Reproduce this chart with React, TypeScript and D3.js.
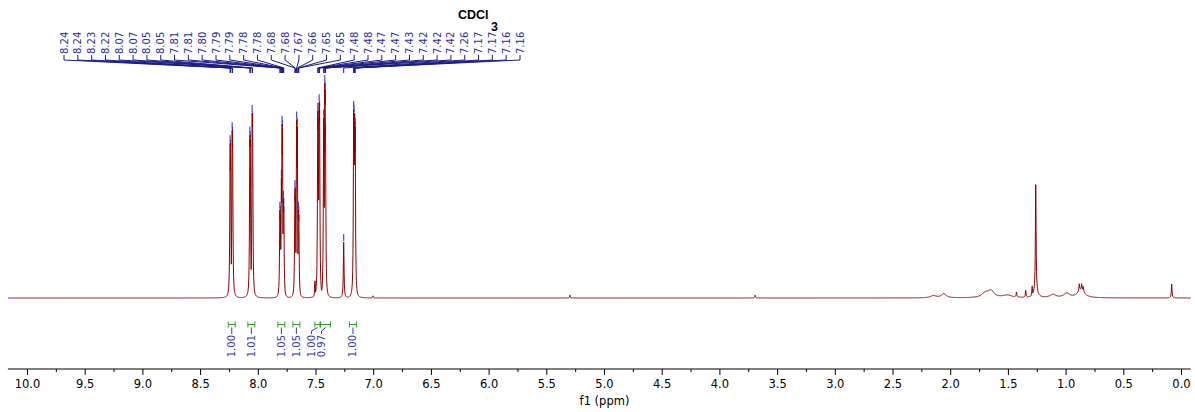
import React from 'react';
import * as d3 from 'd3';

const W = 1195;
const H = 412;

// Labelled (peak-picked) lines: chemical shift (ppm) and relative intensity (% of tallest)
const peakPpm = [
  8.2440, 8.2405, 8.2265, 8.2230, 8.0730, 8.0695, 8.0530, 8.0495,
  7.8130, 7.8090, 7.7998, 7.7942, 7.7905, 7.7830, 7.7790,
  7.6825, 7.6790, 7.6680, 7.6620, 7.6525, 7.6490,
  7.4845, 7.4810, 7.4725, 7.4690, 7.4335, 7.4240, 7.4210, 7.4175,
  7.2600, 7.1735, 7.1700, 7.1640, 7.1605,
];
const peakInt = [
  72, 70, 78, 76, 76, 74, 86, 83,
  41, 39, 56, 81, 79, 46, 43,
  51, 48, 83, 80, 41, 39,
  87, 84, 91, 88, 84, 100, 97, 77,
  26, 88, 86, 82, 80,
];

// Unlabelled sharp lines
const minorPpm = [8.205, 8.030, 7.509, 7.005, 5.300, 3.695, 1.430, 1.350, 1.294, 1.263, 0.886, 0.865, 0.851, 0.085];
const minorInt = [2, 1.5, 8, 1, 1.3, 1.3, 2.3, 3.2, 4.6, 50, 3.3, 2.8, 2.3, 6.5];

// Broad humps (ppm, intensity %, half width ppm)
const broadPpm = [2.15, 2.06, 1.70, 1.65, 1.51, 1.263, 1.114, 0.995, 0.87];
const broadInt = [1.0, 1.9, 2.2, 3.0, 1.2, 2.5, 1.5, 2.0, 3.8];
const broadWid = [0.03, 0.025, 0.035, 0.03, 0.05, 0.02, 0.03, 0.03, 0.035];

// Integrals
const intFrom = [8.26, 8.09, 7.83, 7.70, 7.51, 7.46, 7.21];
const intTo = [8.20, 8.03, 7.77, 7.64, 7.465, 7.375, 7.15];
const intVal = ['1.00', '1.01', '1.05', '1.05', '1.00', '0.97', '1.00'];

const axisTicks = d3.range(0, 10.001, 0.5);
const minorTicks = d3.range(0.25, 10, 0.5);

const SHARP_W = 0.0035;

function intensity(p: number): number {
  let m = 0;
  for (let i = 0; i < peakPpm.length; i++) {
    const d = (p - peakPpm[i]) / SHARP_W;
    const v = peakInt[i] / (1 + d * d);
    if (v > m) m = v;
  }
  for (let i = 0; i < minorPpm.length; i++) {
    const d = (p - minorPpm[i]) / SHARP_W;
    const v = minorInt[i] / (1 + d * d);
    if (v > m) m = v;
  }
  let s = 0;
  for (let i = 0; i < broadPpm.length; i++) {
    const d = (p - broadPpm[i]) / broadWid[i];
    s += broadInt[i] / (1 + d * d);
  }
  return m + s;
}

export default function App() {
  const x = d3.scaleLinear().domain([10, 0]).range([27.5, 1181.5]);
  const y = d3.scaleLinear().domain([0, 100]).range([298, 83]);

  const pStart = 10.17;
  const pEnd = -0.08;
  const samples = d3.range(pEnd, pStart, 0.002).concat(peakPpm, minorPpm).sort((a, b) => b - a);
  const line = d3.line<number>().x((p) => x(p)).y((p) => y(intensity(p)));
  const specPath = line(samples) || '';

  const lblX = d3.scalePoint<number>().domain(d3.range(peakPpm.length)).range([64, 520]);

  // integral label positions: resolve overlaps right-to-left
  const centers = intFrom.map((f, i) => (x(f) + x(intTo[i])) / 2);
  const lpos = centers.slice();
  for (let i = lpos.length - 1; i > 0; i--) {
    if (lpos[i] - lpos[i - 1] < 10) {
      lpos[i] -= 4;
      lpos[i - 1] = lpos[i] - 10;
    }
  }

  const navy = '#1a1a86';
  const font = 'Tahoma, "DejaVu Sans", Verdana, sans-serif';

  return (
    <svg width={W} height={H} style={{ position: 'absolute', left: 0, top: 0, background: '#fff' }}
      fontFamily={font}>
      {/* peak labels */}
      {peakPpm.map((p, i) => {
        const lx = lblX(i) as number;
        const px = x(p);
        return (
          <g key={'pl' + i}>
            <text transform={`translate(${lx},54) rotate(-90)`} dy="0.35em" fontSize={10}
              fill="#2b2b9c" textAnchor="start">{p.toFixed(2)}</text>
            <path d={`M${lx},55V60L${px},68V73`} fill="none" stroke={navy} strokeWidth={1} />
            <line x1={px} x2={px} y1={y(peakInt[i]) - 8} y2={y(peakInt[i]) - 1}
              stroke="#4a4acc" strokeWidth={1.2} />
          </g>
        );
      })}
      <text x={458} y={19} fontSize={12.5} fontWeight="bold" fontFamily='"Liberation Sans", Arial, sans-serif'>CDCl</text>
      <text x={491} y={31} fontSize={12.5} fontWeight="bold" fontFamily='"Liberation Sans", Arial, sans-serif'>3</text>

      {/* spectrum */}
      <path d={specPath} fill="none" stroke="#8b0000" strokeWidth={1} />

      {/* integrals */}
      {intFrom.map((f, i) => {
        const x1 = x(f);
        const x2 = x(intTo[i]);
        const bc = centers[i];
        const lx = lpos[i];
        return (
          <g key={'int' + i}>
            <path d={`M${x1},321.5V327.5M${x1},324.5H${x2}M${x2},321.5V327.5`} fill="none"
              stroke="#2a9a2a" strokeWidth={1} />
            <path d={`M${bc},327.5L${lx},331V334`} fill="none" stroke="#3a3aaa" strokeWidth={1} />
            <text transform={`translate(${lx},335) rotate(-90)`} dy="0.35em" fontSize={10}
              fill="#3a3aaa" textAnchor="end">{intVal[i]}</text>
          </g>
        );
      })}

      {/* axis */}
      <line x1={x(pStart)} x2={x(pEnd)} y1={369} y2={369} stroke="#000" strokeWidth={1} />
      {axisTicks.map((t) => (
        <g key={'t' + t}>
          <line x1={x(t)} x2={x(t)} y1={369} y2={375} stroke="#000" />
          <text x={x(t)} y={388} fontSize={11.5} textAnchor="middle" fill="#000">{d3.format('.1f')(t)}</text>
        </g>
      ))}
      {minorTicks.map((t) => (
        <line key={'m' + t} x1={x(t)} x2={x(t)} y1={369} y2={372} stroke="#000" />
      ))}
      <text x={x(5)} y={405} fontSize={11.5} textAnchor="middle" fill="#000">f1 (ppm)</text>
    </svg>
  );
}
